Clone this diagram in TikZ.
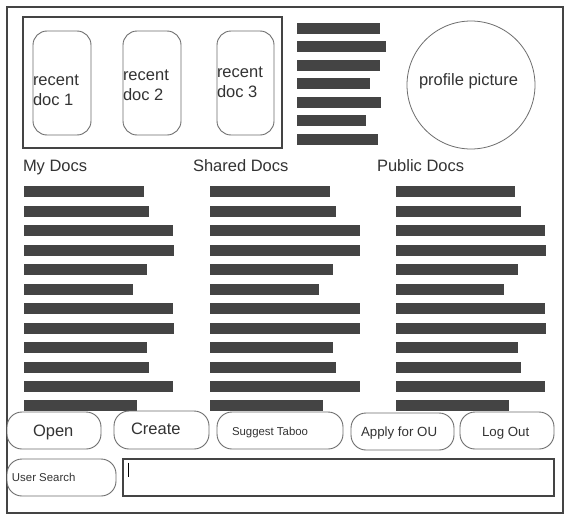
\documentclass[tikz,border=0pt]{standalone}
\usepackage{fontspec}
\setmainfont{Liberation Sans}
\usetikzlibrary{calc}
\definecolor{barc}{HTML}{444444}
\definecolor{framec}{HTML}{444444}
\definecolor{linec}{HTML}{6E6E6E}
\definecolor{textc}{HTML}{333333}
\begin{document}
\begin{tikzpicture}[x=1pt,y=-1pt,
  bar/.style={fill=barc},
  pageframe/.style={draw=framec, line width=2pt, inner sep=0pt, outer sep=0pt},
  card/.style={draw=linec, line width=0.9pt, rounded corners=14pt, fill=white, inner sep=0pt, outer sep=0pt},
  btn/.style={draw=linec, line width=0.9pt, rounded corners=15pt, fill=white, inner sep=0pt, outer sep=0pt},
  lbl/.style={anchor=base west, inner sep=0pt, outer sep=0pt, text=textc},
  big/.style={font=\fontsize{16.5}{19.5}\selectfont, align=left},
  mid/.style={font=\fontsize{13.3}{15}\selectfont},
  small/.style={font=\fontsize{11.4}{13}\selectfont}
]
\useasboundingbox (0,0) rectangle (572,522);
\fill[white] (0,0) rectangle (572,522);

% outer frame
\node[pageframe, minimum width=556pt, minimum height=506pt] (page) at (285,260) {};

% recent docs box
\node[pageframe, minimum width=259pt, minimum height=131pt] (recent) at (152.5,82.5) {};
\node[card, minimum width=58pt, minimum height=104pt] (c1) at (62,83) {};
\node[card, minimum width=58pt, minimum height=104pt] (c2) at (152,83) {};
\node[card, minimum width=57pt, minimum height=104pt] (c3) at (245.5,83) {};
% base anchor of a two-line node is the baseline of its last line
\node[lbl, big] (c1t) at (33,105) {recent\\doc 1};
\node[lbl, big] (c2t) at (123,100) {recent\\doc 2};
\node[lbl, big] (c3t) at (217,97) {recent\\doc 3};

% top-right bars
\foreach \t/\e in {23/380, 41/386, 60/380, 78/370, 97/381, 115/366, 134/378}
  \fill[bar] (297,\t) rectangle (\e,\t+11);

% profile picture
\node[draw=linec, line width=0.8pt, circle, minimum size=128pt, inner sep=0pt] (pp) at (471,85) {};
\node[lbl, big] (ppt) at (419,85) {profile picture};

% column titles
\node[lbl, big] (mydocs) at (23,171) {My Docs};
\node[lbl, big] (shared) at (193,171) {Shared Docs};
\node[lbl, big] (public) at (377,171) {Public Docs};

% column bars
\foreach \t/\a/\b/\c in {186/144/330/515, 206/149/336/521, 225/173/360/545, 245/174/360/546,
  264/147/333/518, 284/133/319/504, 303/173/360/545, 323/174/360/546,
  342/147/333/518, 362/149/336/521, 381/173/360/545, 400/137/323/509}
{
  \fill[bar] (24,\t) rectangle (\a,\t+11);
  \fill[bar] (210,\t) rectangle (\b,\t+11);
  \fill[bar] (396,\t) rectangle (\c,\t+11);
}

% buttons
\node[btn, minimum width=94pt, minimum height=37pt] (open) at (54,430.5) {};
\node[btn, minimum width=95pt, minimum height=38pt] (create) at (161.5,430) {};
\node[btn, minimum width=126pt, minimum height=37pt] (suggest) at (280,430.5) {};
\node[btn, minimum width=103pt, minimum height=37pt] (apply) at (402.5,431.5) {};
\node[btn, minimum width=94pt, minimum height=37pt] (logout) at (507,430.5) {};
\node[btn, minimum width=109pt, minimum height=37pt] (usearch) at (61.5,477.5) {};
\node[pageframe, minimum width=431pt, minimum height=37pt] (sbox) at (338.5,477.5) {};
\coordinate (cur1) at ($(sbox.north west)+(5,3.5)$);
\coordinate (cur2) at ($(sbox.north west)+(5,18)$);
\draw[black, line width=1pt] (cur1) -- (cur2);

\node[lbl, big] (opent) at (33,436) {Open};
\node[lbl, big] (createt) at (131,434.5) {Create};
\node[lbl, small] (suggestt) at (232,435) {Suggest Taboo};
\node[lbl, mid] (applyt) at (361,436) {Apply for OU};
\node[lbl, mid] (logoutt) at (482,436) {Log Out};
\node[lbl, small] (usearcht) at (12,481) {User Search};
\end{tikzpicture}
\end{document}
